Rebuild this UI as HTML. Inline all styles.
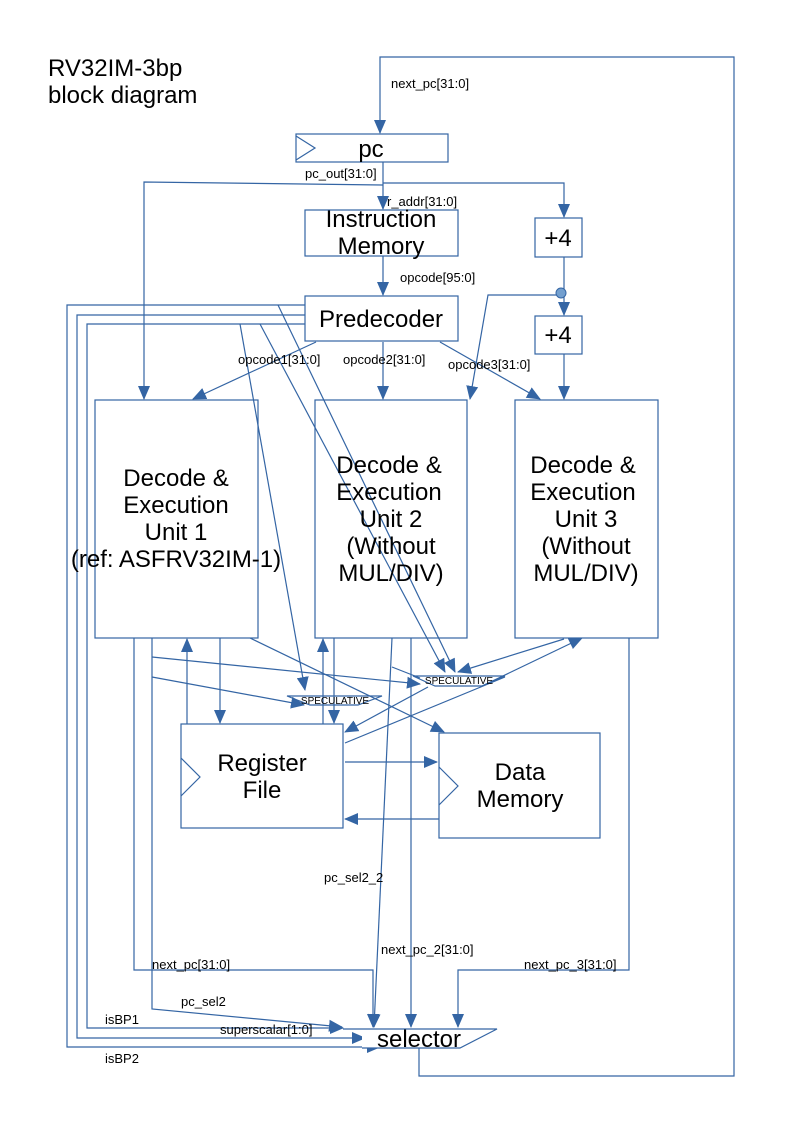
<!DOCTYPE html>
<html><head><meta charset="utf-8"><style>
body{margin:0;background:#fff}
svg{display:block}
text{font-family:"Liberation Sans",sans-serif;fill:#000}
.s{font-size:13px}
.b{font-size:24px}
</style></head><body>
<svg width="800" height="1131" viewBox="0 0 800 1131" xmlns="http://www.w3.org/2000/svg">
<defs>
<marker id="A" markerWidth="14" markerHeight="14" refX="13" refY="7" orient="auto" markerUnits="userSpaceOnUse">
<path d="M0,1 L14,7 L0,13 z" fill="#3465a4"/>
</marker>
</defs>
<g fill="none" stroke="#3465a4" stroke-width="1.2">
<polyline points="419,1048 419,1076 734,1076 734,57 380,57 380,133" marker-end="url(#A)"/>
<rect x="296" y="134" width="152" height="28"/>
<polyline points="296,136 315,148 296,160"/>
<line x1="383" y1="162" x2="383" y2="209" marker-end="url(#A)"/>
<polyline points="383,185 144,182 144,399" marker-end="url(#A)"/>
<polyline points="383,183 564,183 564,217" marker-end="url(#A)"/>
<rect x="305" y="210" width="153" height="46"/>
<rect x="535" y="218" width="47" height="39"/>
<line x1="383" y1="256" x2="383" y2="295" marker-end="url(#A)"/>
<rect x="305" y="296" width="153" height="45"/>
<line x1="564" y1="257" x2="564" y2="315" marker-end="url(#A)"/>
<polyline points="561,295 488,295 470,399" marker-end="url(#A)"/>
<rect x="535" y="316" width="47" height="38"/>
<line x1="564" y1="354" x2="564" y2="399" marker-end="url(#A)"/>
<line x1="316" y1="342" x2="193" y2="399" marker-end="url(#A)"/>
<line x1="383" y1="342" x2="383" y2="399" marker-end="url(#A)"/>
<line x1="440" y1="342" x2="540" y2="399" marker-end="url(#A)"/>
<polyline points="305,305 67,305 67,1047 380,1047" marker-end="url(#A)"/>
<polyline points="305,315 77,315 77,1038 365,1038" marker-end="url(#A)"/>
<polyline points="305,324 87,324 87,1028 343,1028" marker-end="url(#A)"/>
<line x1="240" y1="324" x2="305" y2="690" marker-end="url(#A)"/>
<line x1="260" y1="324" x2="445" y2="672" marker-end="url(#A)"/>
<line x1="278" y1="305" x2="455" y2="672" marker-end="url(#A)"/>
<rect x="95" y="400" width="163" height="238"/>
<rect x="315" y="400" width="152" height="238"/>
<rect x="515" y="400" width="143" height="238"/>
<polyline points="134,638 134,970 373,970 373,1027" marker-end="url(#A)"/>
<polyline points="152,638 152,1009 342,1027" marker-end="url(#A)"/>
<line x1="152" y1="657" x2="420" y2="684" marker-end="url(#A)"/>
<line x1="152" y1="677" x2="304" y2="705" marker-end="url(#A)"/>
<line x1="187" y1="724" x2="187" y2="639" marker-end="url(#A)"/>
<line x1="220" y1="638" x2="220" y2="723" marker-end="url(#A)"/>
<line x1="250" y1="638" x2="444" y2="732" marker-end="url(#A)"/>
<line x1="323" y1="724" x2="323" y2="639" marker-end="url(#A)"/>
<line x1="334" y1="638" x2="334" y2="723" marker-end="url(#A)"/>
<line x1="392" y1="638" x2="374" y2="1027" marker-end="url(#A)"/>
<line x1="411" y1="638" x2="411" y2="1027" marker-end="url(#A)"/>
<line x1="392" y1="667" x2="420" y2="678"/>
<polyline points="629,638 629,970 458,970 458,1027" marker-end="url(#A)"/>
<line x1="564" y1="639" x2="458" y2="672" marker-end="url(#A)"/>
<line x1="482" y1="686" x2="582" y2="638" marker-end="url(#A)"/>
<line x1="345" y1="743" x2="505" y2="677"/>
<line x1="428" y1="687" x2="345" y2="732" marker-end="url(#A)"/>
<polygon points="287,696 382,696 358,705 310,705"/>
<polygon points="413,676 505,676 482,686 435,686"/>
<rect x="181" y="724" width="162" height="104"/>
<polyline points="181,758 200,777 181,796"/>
<rect x="439" y="733" width="161" height="105"/>
<polyline points="439,767 458,786 439,805"/>
<line x1="345" y1="762" x2="437" y2="762" marker-end="url(#A)"/>
<line x1="439" y1="819" x2="345" y2="819" marker-end="url(#A)"/>
<polygon points="362,1029 497,1029 460,1048 362,1048" stroke="none" fill="#fff"/>
<polyline points="343,1029 497,1029 460,1048 362,1048"/>
</g>
<circle cx="561" cy="293" r="5" fill="#729fcf" stroke="#3465a4"/>
<text class="b" x="48" y="76">RV32IM-3bp</text>
<text class="b" x="48" y="103">block diagram</text>
<text class="s" x="391" y="88">next_pc[31:0]</text>
<text class="b" x="371" y="157" text-anchor="middle">pc</text>
<text class="s" x="305" y="178">pc_out[31:0]</text>
<text class="s" x="387" y="206">r_addr[31:0]</text>
<text class="b" x="381" y="227" text-anchor="middle">Instruction</text>
<text class="b" x="381" y="254" text-anchor="middle">Memory</text>
<text class="b" x="558" y="246" text-anchor="middle">+4</text>
<text class="s" x="400" y="282">opcode[95:0]</text>
<text class="b" x="381" y="327" text-anchor="middle">Predecoder</text>
<text class="b" x="558" y="343" text-anchor="middle">+4</text>
<text class="s" x="238" y="364">opcode1[31:0]</text>
<text class="s" x="343" y="364">opcode2[31:0]</text>
<text class="s" x="448" y="369">opcode3[31:0]</text>
<g class="b" text-anchor="middle">
<text x="176" y="486">Decode &amp;</text>
<text x="176" y="513">Execution</text>
<text x="176" y="540">Unit 1</text>
<text x="176" y="567">(ref: ASFRV32IM-1)</text>
<text x="389" y="473">Decode &amp;</text>
<text x="389" y="500">Execution</text>
<text x="391" y="527">Unit 2</text>
<text x="391" y="554">(Without</text>
<text x="391" y="581">MUL/DIV)</text>
<text x="583" y="473">Decode &amp;</text>
<text x="583" y="500">Execution</text>
<text x="586" y="527">Unit 3</text>
<text x="586" y="554">(Without</text>
<text x="586" y="581">MUL/DIV)</text>
<text x="262" y="771">Register</text>
<text x="262" y="798">File</text>
<text x="520" y="780">Data</text>
<text x="520" y="807">Memory</text>
<text x="419" y="1047">selector</text>
</g>
<text x="335" y="704" font-size="10" text-anchor="middle">SPECULATIVE</text>
<text x="459" y="684" font-size="10" text-anchor="middle">SPECULATIVE</text>
<text class="s" x="324" y="882">pc_sel2_2</text>
<text class="s" x="381" y="954">next_pc_2[31:0]</text>
<text class="s" x="152" y="969">next_pc[31:0]</text>
<text class="s" x="524" y="969">next_pc_3[31:0]</text>
<text class="s" x="181" y="1006">pc_sel2</text>
<text class="s" x="105" y="1024">isBP1</text>
<text class="s" x="220" y="1034">superscalar[1:0]</text>
<text class="s" x="105" y="1063">isBP2</text>
</svg>
</body></html>
